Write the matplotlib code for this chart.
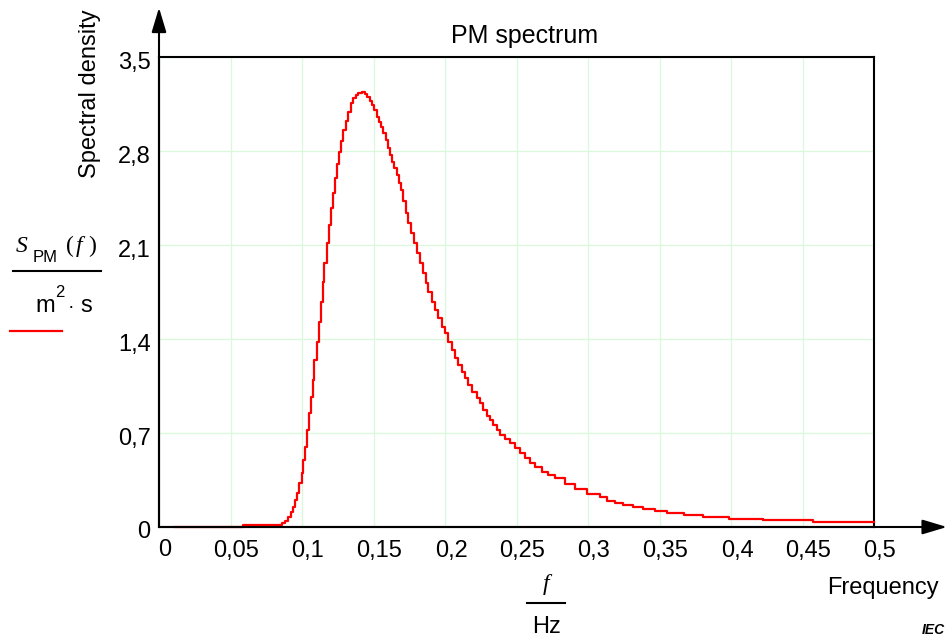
import matplotlib
matplotlib.use("Agg")
import matplotlib.pyplot as plt
from matplotlib.transforms import ScaledTranslation

# ---- data ----
freq = [0.0112, 0.0587, 0.0858, 0.0881, 0.0904, 0.0921, 0.0935, 0.0951, 0.0963, 0.0981,
        0.0998, 0.1009, 0.1021, 0.1033, 0.1049, 0.1061, 0.1075, 0.1086, 0.1103, 0.1119,
        0.1133, 0.1145, 0.1156, 0.1173, 0.1189, 0.1203, 0.1219, 0.1231, 0.1243, 0.1259,
        0.1273, 0.1289, 0.1306, 0.1322, 0.1341, 0.1359, 0.1378, 0.1394, 0.1417, 0.1441,
        0.1457, 0.1476, 0.1492, 0.1506, 0.1522, 0.1538, 0.1552, 0.1569, 0.1585, 0.1599,
        0.1615, 0.1631, 0.1645, 0.1662, 0.1678, 0.1692, 0.1708, 0.1727, 0.1743, 0.1762,
        0.1783, 0.1802, 0.1825, 0.1844, 0.1865, 0.1883, 0.1907, 0.1930, 0.1953, 0.1977,
        0.2000, 0.2023, 0.2047, 0.2070, 0.2093, 0.2117, 0.2140, 0.2163, 0.2187, 0.2222,
        0.2245, 0.2268, 0.2292, 0.2315, 0.2338, 0.2362, 0.2385, 0.2420, 0.2455, 0.2490,
        0.2524, 0.2559, 0.2594, 0.2629, 0.2676, 0.2722, 0.2769, 0.2839, 0.2909, 0.2993,
        0.3084, 0.3133, 0.3189, 0.3245, 0.3315, 0.3385, 0.3469, 0.3552, 0.3671, 0.3804,
        0.3986, 0.4224, 0.4573, 0.5000]
s_pm = [0.000, 0.015, 0.028, 0.047, 0.077, 0.114, 0.151, 0.201, 0.251, 0.325,
        0.400, 0.499, 0.598, 0.722, 0.847, 0.970, 1.095, 1.243, 1.380, 1.529,
        1.678, 1.827, 1.964, 2.112, 2.249, 2.373, 2.485, 2.596, 2.703, 2.795,
        2.874, 2.956, 3.027, 3.090, 3.155, 3.192, 3.217, 3.234, 3.237, 3.222,
        3.204, 3.174, 3.142, 3.104, 3.055, 3.018, 2.981, 2.931, 2.882, 2.820,
        2.770, 2.720, 2.671, 2.621, 2.559, 2.509, 2.430, 2.340, 2.261, 2.187,
        2.112, 2.038, 1.964, 1.889, 1.815, 1.752, 1.678, 1.616, 1.554, 1.491,
        1.442, 1.380, 1.318, 1.256, 1.206, 1.156, 1.107, 1.057, 1.007, 0.958,
        0.921, 0.871, 0.827, 0.797, 0.760, 0.722, 0.685, 0.653, 0.623, 0.586,
        0.549, 0.512, 0.479, 0.449, 0.412, 0.387, 0.363, 0.320, 0.283, 0.249,
        0.223, 0.196, 0.181, 0.164, 0.151, 0.134, 0.119, 0.106, 0.092, 0.077,
        0.062, 0.050, 0.035, 0.035]

x_ticks = [0, 0.05, 0.1, 0.15, 0.2, 0.25, 0.3, 0.35, 0.4, 0.45, 0.5]
x_tick_labels = ["0", "0,05", "0,1", "0,15", "0,2", "0,25", "0,3", "0,35", "0,4", "0,45", "0,5"]
y_ticks = [0, 0.7, 1.4, 2.1, 2.8, 3.5]
y_tick_labels = ["0", "0,7", "1,4", "2,1", "2,8", "3,5"]

title = "PM spectrum"
y_name = "Spectral density"
x_name = "Frequency"

# ---- figure ----
W, H = 948, 642
SANS = ["Liberation Sans", "DejaVu Sans"]
SERIF = ["Liberation Serif", "DejaVu Serif"]
plt.rcParams["font.family"] = SANS

fig = plt.figure(figsize=(W / 100, H / 100), dpi=100)
L, R, T, B = 159, 874, 57, 527
ax = fig.add_axes([L / W, 1 - B / H, (R - L) / W, (B - T) / H])

def P(x, y):
    return (x / W, 1 - y / H)

ax.set_xlim(0, 0.5)
ax.set_ylim(0, 3.5)
ax.set_xticks(x_ticks)
ax.set_xticklabels(x_tick_labels, fontsize=17)
ax.set_yticks(y_ticks)
ax.set_yticklabels(y_tick_labels, fontsize=17)
ax.tick_params(axis="both", length=0)
ax.tick_params(axis="x", pad=9)
ax.tick_params(axis="y", pad=6)
for lab in ax.get_xticklabels():
    lab.set_transform(lab.get_transform() + ScaledTranslation(6 / 100, 0, fig.dpi_scale_trans))
for lab in ax.get_yticklabels():
    lab.set_transform(lab.get_transform() + ScaledTranslation(0, -3 / 100, fig.dpi_scale_trans))

ax.grid(True, color="#daf8da", linewidth=0.9)
ax.set_axisbelow(True)
for sp in ax.spines.values():
    sp.set_linewidth(1.5)
    sp.set_color("black")

ax.plot(freq, s_pm, color="#ff0000", linewidth=1.6, drawstyle="steps-post", zorder=3,
        clip_on=False)

# axis arrows
arrow_kw = dict(arrowstyle="-|>,head_length=1.5,head_width=0.45", lw=1.5, color="black",
                mutation_scale=10, shrinkA=0, shrinkB=0)
ax.annotate("", xy=(0, 1.105), xytext=(0, 0), xycoords="axes fraction",
            textcoords="axes fraction", arrowprops=arrow_kw, annotation_clip=False)
ax.annotate("", xy=(1.102, 0), xytext=(0, 0), xycoords="axes fraction",
            textcoords="axes fraction", arrowprops=arrow_kw, annotation_clip=False)

# texts
fig.text(*P(525, 36), title, ha="center", va="center", fontsize=18)
fig.text(*P(90, 94), y_name, ha="center", va="center", rotation=90, fontsize=17)
fig.text(*P(827, 594), x_name, ha="left", va="baseline", fontsize=17)

# left unit fraction
fig.text(*P(16, 252), "S", ha="left", va="baseline", fontsize=17, style="italic", family=SERIF)
fig.text(*P(33, 262), "PM", ha="left", va="baseline", fontsize=12)
fig.text(*P(66, 252), "(", ha="left", va="baseline", fontsize=17, family=SERIF)
fig.text(*P(76, 252), "f", ha="left", va="baseline", fontsize=17, style="italic", family=SERIF)
fig.text(*P(88, 252), ")", ha="left", va="baseline", fontsize=17, family=SERIF)
fig.add_artist(plt.Line2D([13 / W, 101 / W], [1 - 271 / H] * 2, color="black", lw=1.5))
fig.text(*P(35, 312), "m", ha="left", va="baseline", fontsize=17)
fig.text(*P(55, 297), "2", ha="left", va="baseline", fontsize=12)
fig.text(*P(68, 312), "\u00b7", ha="left", va="baseline", fontsize=14)
fig.text(*P(80, 312), "s", ha="left", va="baseline", fontsize=17)
fig.add_artist(plt.Line2D([10 / W, 62 / W], [1 - 331 / H] * 2, color="#ff0000", lw=1.6))

# bottom unit fraction
fig.text(*P(546, 590), "f", ha="center", va="baseline", fontsize=17, style="italic", family=SERIF)
fig.add_artist(plt.Line2D([527 / W, 565 / W], [1 - 603 / H] * 2, color="black", lw=1.5))
fig.text(*P(546, 633), "Hz", ha="center", va="baseline", fontsize=17)

fig.text(*P(945, 634), "IEC", ha="right", va="baseline", fontsize=10, style="italic", weight="bold")

fig.savefig("out.png", dpi=100)
